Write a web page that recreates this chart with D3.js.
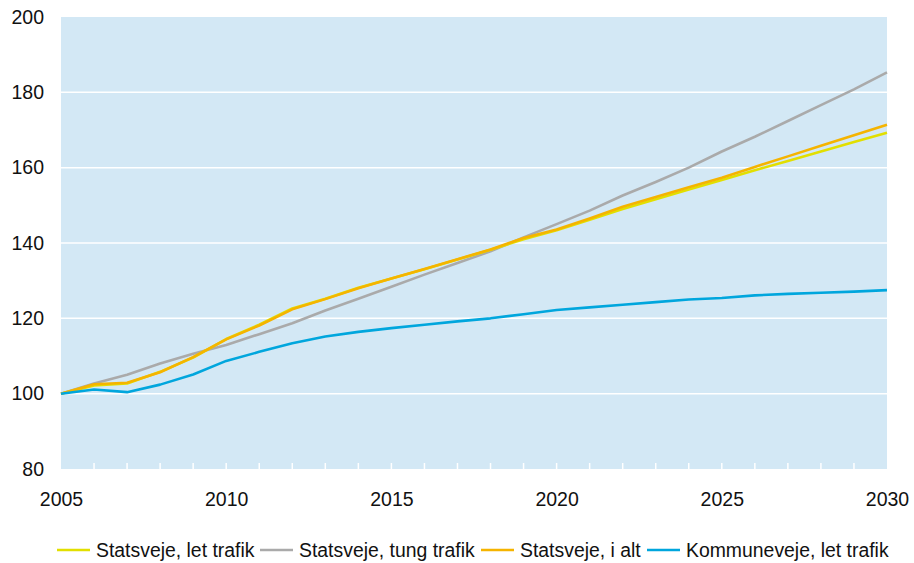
<!DOCTYPE html>
<html>
<head>
<meta charset="utf-8">
<script src="https://cdn.jsdelivr.net/npm/d3@7"></script>
<style>
  body { margin: 0; background: #fff; }
  text { font-family: "Liberation Sans", Arial, sans-serif; fill: #111; }
</style>
</head>
<body>
<div id="chart"></div>
<script>
// data (index, 2005 = 100)
var years = d3.range(2005, 2031);
var letTrafik  = [100, 102.2, 102.7, 105.8, 109.6, 114.5, 118.3, 122.6, 125.2, 128.1, 130.6, 133.0, 135.6, 138.2, 141.0, 143.4, 146.2, 149.0, 151.6, 154.2, 156.7, 159.3, 161.8, 164.3, 166.8, 169.3];
var tungTrafik = [100, 102.7, 105.0, 108.0, 110.6, 112.9, 115.8, 118.7, 122.1, 125.2, 128.4, 131.6, 134.7, 137.8, 141.5, 145.0, 148.6, 152.6, 156.2, 160.0, 164.3, 168.2, 172.4, 176.6, 180.8, 185.3];
var iAlt       = [100, 102.5, 102.9, 105.7, 109.7, 114.4, 118.1, 122.4, 125.1, 128.0, 130.6, 133.1, 135.7, 138.3, 141.3, 143.6, 146.5, 149.6, 152.2, 154.8, 157.3, 160.2, 163.0, 165.8, 168.6, 171.4];
var kommune    = [100, 101.1, 100.4, 102.4, 105.1, 108.7, 111.1, 113.4, 115.2, 116.4, 117.4, 118.3, 119.2, 120.0, 121.1, 122.2, 122.9, 123.6, 124.3, 125.0, 125.4, 126.1, 126.5, 126.8, 127.1, 127.5];

var seriesNames = ["Statsveje, let trafik", "Statsveje, tung trafik", "Statsveje, i alt", "Kommuneveje, let trafik"];
var seriesColors = ["#e2df00", "#aaaaaa", "#f5b400", "#00a6dd"];
var seriesValues = [letTrafik, tungTrafik, iAlt, kommune];

var yTicks = [80, 100, 120, 140, 160, 180, 200];
var xTicks = [2005, 2010, 2015, 2020, 2025, 2030];

var W = 914, H = 563;
var margin = {top: 17, right: 27, bottom: 94, left: 61},
    width = W - margin.left - margin.right,
    height = H - margin.top - margin.bottom;

var svg = d3.select("#chart")
  .append("svg")
    .attr("width", W)
    .attr("height", H)
  .append("g")
    .attr("transform", "translate(" + margin.left + "," + margin.top + ")");

var x = d3.scaleLinear().domain([2005, 2030]).range([0, width]);
var y = d3.scaleLinear().domain([80, 200]).range([height, 0]);

// plot background
svg.append("rect")
  .attr("width", width)
  .attr("height", height)
  .attr("fill", "#d3e8f5");

// gridlines
svg.append("g")
  .selectAll("line")
  .data(yTicks.filter(function(d) { return d > 80 && d < 200; }))
  .enter().append("line")
    .attr("x1", 0).attr("x2", width)
    .attr("y1", function(d) { return y(d); })
    .attr("y2", function(d) { return y(d); })
    .attr("stroke", "#fff")
    .attr("stroke-width", 1.5);

// small year ticks inside bottom edge
svg.append("g")
  .selectAll("line")
  .data(years.slice(1, -1))
  .enter().append("line")
    .attr("x1", function(d) { return x(d); })
    .attr("x2", function(d) { return x(d); })
    .attr("y1", height)
    .attr("y2", height - 6)
    .attr("stroke", "#fff")
    .attr("stroke-width", 1.5);

// y axis labels
var yAxis = svg.append("g")
  .call(d3.axisLeft(y).tickValues(yTicks).tickSize(0).tickPadding(17));
yAxis.select(".domain").remove();
yAxis.selectAll("text").style("font-size", "19.5px").attr("fill", "#111");

// x axis labels
var xAxis = svg.append("g")
  .attr("transform", "translate(0," + height + ")")
  .call(d3.axisBottom(x).tickValues(xTicks).tickFormat(d3.format("d")).tickSize(0).tickPadding(23));
xAxis.select(".domain").remove();
xAxis.selectAll("text").style("font-size", "19.5px").attr("fill", "#111");

// lines
var line = d3.line()
  .x(function(d, i) { return x(years[i]); })
  .y(function(d) { return y(d); });

var drawOrder = [1, 0, 2, 3];
drawOrder.forEach(function(k) {
  svg.append("path")
    .datum(seriesValues[k])
    .attr("fill", "none")
    .attr("stroke", seriesColors[k])
    .attr("stroke-width", 2.6)
    .attr("stroke-linejoin", "round")
    .attr("d", line);
});

// legend
var legendX = [57, 260, 481, 647];
var legend = d3.select("svg").append("g");
seriesNames.forEach(function(name, k) {
  var g = legend.append("g").attr("transform", "translate(" + legendX[k] + ",550)");
  g.append("line")
    .attr("x1", 0).attr("x2", 33)
    .attr("y1", 0).attr("y2", 0)
    .attr("stroke", seriesColors[k])
    .attr("stroke-width", 2.6);
  g.append("text")
    .attr("x", 39)
    .attr("y", 7)
    .style("font-size", "19.4px")
    .text(name);
});
</script>
</body>
</html>
